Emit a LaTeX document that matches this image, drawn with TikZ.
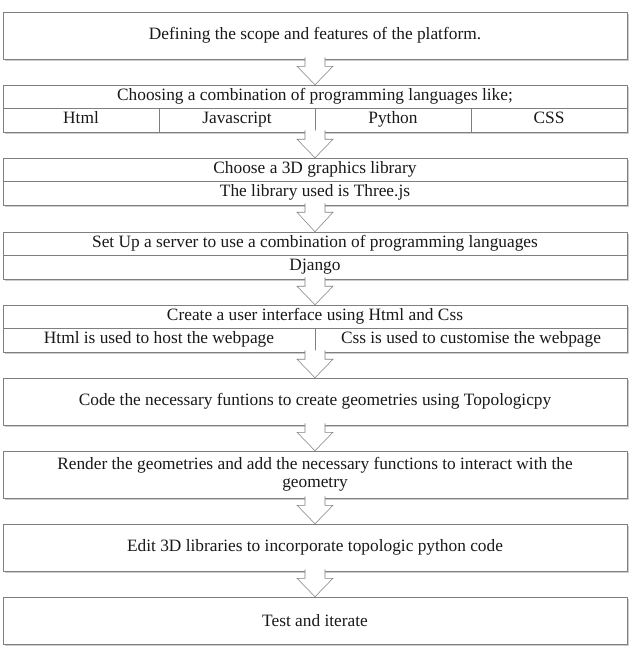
\documentclass[tikz,border=0pt]{standalone}
\usepackage{fontspec}
\setmainfont{Liberation Serif}
\usetikzlibrary{calc, shadows}
\definecolor{boxgray}{HTML}{7F7F7F}

% hollow block arrow from the bottom of one box to the top of the next
\newcommand{\flowarrow}[2]{%
  \coordinate (fa) at (#2.north |- #1.south);
  \draw[flowarrow] ($(fa)+(-10,-2)$) -- ($(fa)+(-10,7)$) -- ($(fa)+(-18,7)$)
    -- (#2.north) -- ($(fa)+(18,7)$) -- ($(fa)+(10,7)$) -- ($(fa)+(10,-2)$);}

\begin{document}
\begin{tikzpicture}[
  x=0.75pt, y=-0.75pt,
  base/.style={rectangle, draw=boxgray, fill=white, inner sep=1pt, align=center,
               font=\fontsize{13}{13.5}\selectfont, text=black!90,
               drop shadow={shadow xshift=1.2pt, shadow yshift=-1.2pt, opacity=0.4}},
  stepbox/.style={base, minimum width=468pt, minimum height=35.25pt},
  headrow/.style={base, minimum width=468pt, minimum height=17.6pt,
                  text height=8.6pt, text depth=3pt},
  cellrow/.style={base, minimum width=#1, minimum height=17.6pt,
                  text height=8.6pt, text depth=3pt},
  flowarrow/.style={draw=boxgray, fill=white, line join=miter}
]
\useasboundingbox (0,0) rectangle (633,671);

% === Steps (top to bottom) ===
\node[stepbox] (s1) at (315, 35.5) {Defining the scope and features of the platform.};

\node[headrow] (s2) at (315, 96.75) {Choosing a combination of programming languages like;};
\node[cellrow=117pt] (s2a) at (81, 120.25)  {Html};
\node[cellrow=117pt] (s2b) at (237, 120.25) {Javascript};
\node[cellrow=117pt] (s2c) at (393, 120.25) {Python};
\node[cellrow=117pt] (s2d) at (549, 120.25) {CSS};

\node[headrow] (s3) at (315, 169.75) {Choose a 3D graphics library};
\node[cellrow=468pt] (s3a) at (315, 193.25) {The library used is Three.js};

\node[headrow] (s4) at (315, 243.75) {Set Up a server to use a combination of programming languages};
\node[cellrow=468pt] (s4a) at (315, 267.25) {Django};

\node[headrow] (s5) at (315, 316.75) {Create a user interface using Html and Css};
\node[cellrow=234pt] (s5a) at (159, 340.25) {Html is used to host the webpage};
\node[cellrow=234pt] (s5b) at (471, 340.25) {Css is used to customise the webpage};

\node[stepbox] (s6) at (315, 401.5) {Code the necessary funtions to create geometries using Topologicpy};

\node[stepbox] (s7) at (315, 474.5) {Render the geometries and add the necessary functions to interact with the\\ geometry};

\node[stepbox] (s8) at (315, 547.5) {Edit 3D libraries to incorporate topologic python code};

\node[stepbox] (s9) at (315, 620.5) {Test and iterate};

% === Arrows between steps ===
\flowarrow{s1}{s2}
\flowarrow{s2c}{s3}
\flowarrow{s3a}{s4}
\flowarrow{s4a}{s5}
\flowarrow{s5b}{s6}
\flowarrow{s6}{s7}
\flowarrow{s7}{s8}
\flowarrow{s8}{s9}

\end{tikzpicture}
\end{document}
